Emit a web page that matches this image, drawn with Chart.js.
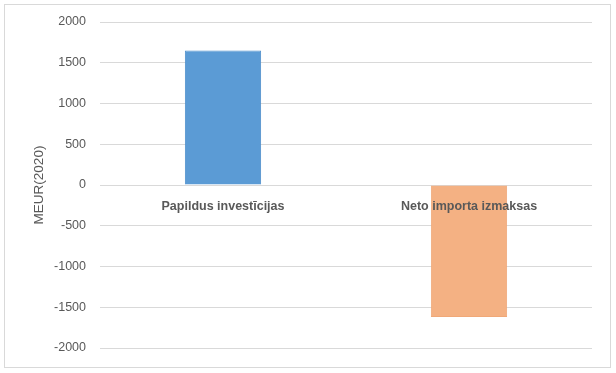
<!DOCTYPE html>
<html>
<head>
<meta charset="utf-8">
<script src="https://cdn.jsdelivr.net/npm/chart.js"></script>
<style>
    html, body { margin: 0; padding: 0; background: #fff; }
    #wrap { width: 616px; height: 373px; position: relative; }
</style>
</head>
<body>
<div id="wrap"><canvas id="myChart"></canvas></div>
<script>
var categories = ['Papildus investīcijas', 'Neto importa izmaksas'];
var values = [1650, -1620];
var barColors = ['#5B9BD5', '#F4B183'];
var barBorders = ['#4F8FCB', '#F0A878'];
var yTicks = [-2000, -1500, -1000, -500, 0, 500, 1000, 1500, 2000];

// white background + light gray frame like the Excel chart area
var framePlugin = {
    id: 'frame',
    beforeDraw: function (chart) {
        var ctx = chart.ctx;
        ctx.save();
        ctx.fillStyle = '#ffffff';
        ctx.fillRect(0, 0, chart.width, chart.height);
        ctx.strokeStyle = '#d9d9d9';
        ctx.lineWidth = 1;
        ctx.strokeRect(4.5, 4.5, 606, 363);
        ctx.restore();
    }
};

var ctx = document.getElementById('myChart').getContext('2d');
new Chart(ctx, {
    type: 'bar',
    data: {
        labels: categories,
        datasets: [{
            label: 'MEUR(2020)',
            data: values,
            backgroundColor: barColors,
            borderColor: barBorders,
            borderWidth: 1,
            categoryPercentage: 1,
            barPercentage: 0.31
        }]
    },
    options: {
        responsive: true,
        maintainAspectRatio: false,
        animation: false,
        layout: {
            padding: { left: 0, right: 24, top: 22, bottom: 25 }
        },
        plugins: {
            legend: { display: false },
            tooltip: { enabled: false }
        },
        scales: {
            x: {
                position: { y: 0 },
                grid: { display: false },
                border: { display: false },
                ticks: {
                    z: 1,
                    color: '#595959',
                    padding: 6,
                    maxRotation: 0,
                    font: { family: 'Liberation Sans', size: 12.5, weight: 'bold' }
                }
            },
            y: {
                min: -2000,
                max: 2000,
                afterFit: function (scale) { scale.width = 100; },
                afterBuildTicks: function (scale) {
                    scale.ticks = yTicks.map(function (v) { return { value: v }; });
                },
                grid: { color: '#d9d9d9', lineWidth: 1, drawTicks: false },
                border: { display: false },
                ticks: {
                    color: '#595959',
                    padding: 14,
                    font: { family: 'Liberation Sans', size: 12.5 },
                    callback: function (v) { return String(v); }
                },
                title: {
                    display: true,
                    text: 'MEUR(2020)',
                    color: '#595959',
                    padding: { top: 31, bottom: 0 },
                    font: { family: 'Liberation Sans', size: 13.5 }
                }
            }
        }
    },
    plugins: [framePlugin]
});
</script>
</body>
</html>
